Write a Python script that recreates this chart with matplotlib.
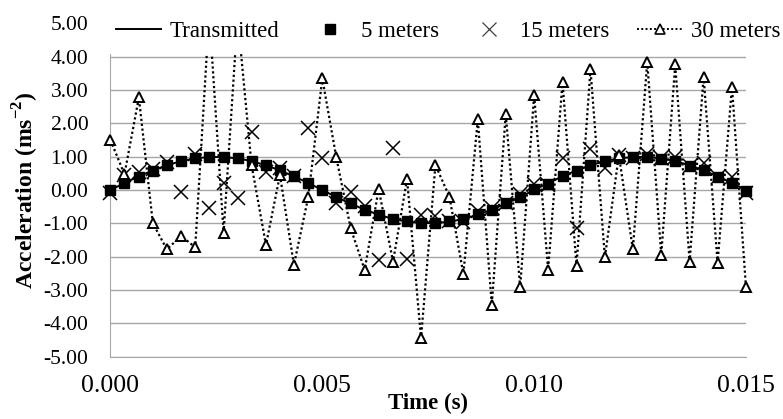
import matplotlib
matplotlib.use('Agg')
import matplotlib.pyplot as plt
from matplotlib.lines import Line2D
from matplotlib.patches import Rectangle
from matplotlib.ticker import FormatStrFormatter

plt.rcParams['font.family'] = 'Liberation Serif'
plt.rcParams['axes.unicode_minus'] = False
plt.rcParams['mathtext.fontset'] = 'custom'
plt.rcParams['mathtext.rm'] = 'Liberation Serif'
plt.rcParams['mathtext.bf'] = 'Liberation Serif:bold'

# Sample times (s)
time_s = [0.00000, 0.00033, 0.00067, 0.00100, 0.00133, 0.00167, 0.00200, 0.00233,
          0.00267, 0.00300, 0.00333, 0.00367, 0.00400, 0.00433, 0.00467, 0.00500,
          0.00533, 0.00567, 0.00600, 0.00633, 0.00667, 0.00700, 0.00733, 0.00767,
          0.00800, 0.00833, 0.00867, 0.00900, 0.00933, 0.00967, 0.01000, 0.01033,
          0.01067, 0.01100, 0.01133, 0.01167, 0.01200, 0.01233, 0.01267, 0.01300,
          0.01333, 0.01367, 0.01400, 0.01433, 0.01467, 0.01500]

# Acceleration (m/s^2)
transmitted = [0.00, 0.21, 0.41, 0.59, 0.74, 0.87, 0.95, 0.99, 0.99, 0.95, 0.87, 0.74,
               0.59, 0.41, 0.21, 0.00, -0.21, -0.41, -0.59, -0.74, -0.87, -0.95, -0.99,
               -0.99, -0.95, -0.87, -0.74, -0.59, -0.41, -0.21, 0.00, 0.21, 0.41, 0.59,
               0.74, 0.87, 0.95, 0.99, 0.99, 0.95, 0.87, 0.74, 0.59, 0.41, 0.21, 0.00]

rx_5m = [0.00, 0.20, 0.40, 0.58, 0.75, 0.86, 0.96, 0.99, 0.99, 0.96, 0.86, 0.75,
         0.60, 0.42, 0.22, 0.00, -0.20, -0.40, -0.60, -0.75, -0.87, -0.94, -0.98,
         -1.00, -0.94, -0.88, -0.72, -0.60, -0.40, -0.20, 0.03, 0.19, 0.43, 0.57,
         0.75, 0.87, 0.97, 0.98, 1.00, 0.92, 0.86, 0.73, 0.60, 0.40, 0.22, -0.02]

rx_15m = [-0.08, 0.45, 0.55, 0.62, 0.85, -0.05, 1.08, -0.55, 0.22, -0.25, 1.75, 0.55,
          0.65, 0.42, 1.85, 0.97, -0.40, -0.05, -0.48, -2.10, 1.25, -2.07, -0.75,
          -0.78, -0.92, -0.95, -0.62, -0.55, -0.40, -0.12, 0.18, 0.15, 0.95, -1.15,
          1.22, 0.65, 1.05, 0.95, 1.08, 0.95, 0.98, 0.72, 0.82, 0.40, 0.38, -0.10]

rx_30m = [1.50, 0.47, 2.78, -1.00, -1.78, -1.38, -1.72, 5.30, -1.28, 5.20, 0.75, -1.65,
          0.45, -2.25, -0.20, 3.35, 0.98, -1.15, -2.40, 0.03, -2.15, 0.33, -4.45,
          0.75, -0.20, -2.52, 2.12, -3.45, 2.28, -2.92, 2.85, -2.40, 3.25, -2.28,
          3.62, -2.02, 1.05, -1.78, 3.85, -1.95, 3.77, -2.15, 3.40, -2.18, 3.10, -2.92]

x_ticks = [0.000, 0.005, 0.010, 0.015]
y_ticks = [-5, -4, -3, -2, -1, 0, 1, 2, 3, 4, 5]

fig = plt.figure(figsize=(7.83, 4.19), dpi=100)
ax = fig.add_axes([0.1411, 0.149, 0.8116, 0.795])

grid_col = '#a6a6a6'
for y in y_ticks:
    ax.axhline(y, color=grid_col, lw=1.0, zorder=0)

# clip only top/bottom so edge markers stay whole
clip = Rectangle((-0.03, 0.0), 1.06, 1.0, transform=ax.transAxes,
                 facecolor='none', edgecolor='none')

arts = []
arts += ax.plot(time_s, transmitted, '-', color='black', lw=1.4, zorder=2)
arts += ax.plot(time_s, rx_5m, 's', color='black', ms=7, ls='none', zorder=3)
arts += ax.plot(time_s, rx_15m, 'x', color='black', ms=9.5, mew=1.1, ls='none', zorder=4)
arts += ax.plot(time_s, rx_30m, ls=(0, (1, 1.2)), color='black', lw=1.6,
                marker='^', ms=6.5, mfc='white', mec='black', mew=1.4, zorder=5)
for a in arts:
    a.set_clip_path(clip)

ax.set_xlim(0, 0.015)
ax.set_ylim(-5, 5)
ax.set_xticks(x_ticks)
ax.set_yticks(y_ticks)
ax.xaxis.set_major_formatter(FormatStrFormatter('%.3f'))
ax.yaxis.set_major_formatter(FormatStrFormatter('%.2f'))
ax.tick_params(axis='x', length=0, pad=13, labelsize=18.5)
ax.tick_params(axis='y', length=0, pad=16, labelsize=15.5)

for s in ['top', 'right']:
    ax.spines[s].set_visible(False)
ax.spines['left'].set_color(grid_col)
ax.spines['bottom'].set_color(grid_col)

ax.set_xlabel('Time (s)', fontsize=16.5, fontweight='bold', labelpad=-3)
ax.set_ylabel(r'Acceleration (ms$^{\mathbf{-2}}$)', fontsize=17,
              fontweight='bold', labelpad=2)

handles = [
    Line2D([], [], color='black', lw=1.4),
    Line2D([], [], marker='s', color='black', ms=7, ls='none'),
    Line2D([], [], marker='x', color='#404040', ms=9.5, mew=0.9, ls='none'),
    Line2D([], [], ls=(0, (1, 1.2)), color='black', lw=1.4, marker='^', ms=6.5,
           mfc='white', mec='black', mew=1.2),
]
labels = ['Transmitted', '5 meters', '15 meters', '30 meters']
leg = fig.legend(handles, labels, ncol=4, loc='center', bbox_to_anchor=(0.572, 0.926),
                 fontsize=16.5, handlelength=2.0, handletextpad=0.35,
                 columnspacing=1.2, borderpad=0.55, numpoints=1,
                 frameon=True, fancybox=False, framealpha=1.0)
leg.get_frame().set_edgecolor('none')
leg.get_frame().set_facecolor('white')

fig.savefig('out.png', dpi=100)
